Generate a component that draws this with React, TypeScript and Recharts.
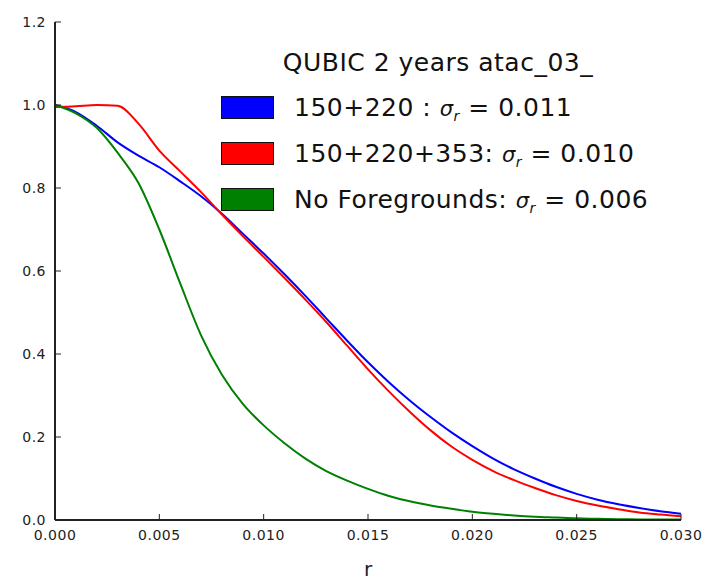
import React from 'react';
import { LineChart, Line, XAxis, YAxis, Legend } from 'recharts';

const rValues = [
  0, 0.001, 0.002, 0.003, 0.004, 0.005, 0.006, 0.007, 0.008, 0.009, 0.01,
  0.011, 0.012, 0.013, 0.014, 0.015, 0.016, 0.017, 0.018, 0.019, 0.02,
  0.021, 0.022, 0.023, 0.024, 0.025, 0.026, 0.027, 0.028, 0.029, 0.03,
];
const blueValues = [
  1.0, 0.983, 0.95, 0.91, 0.878, 0.85, 0.816, 0.78, 0.738, 0.69, 0.642,
  0.592, 0.54, 0.486, 0.432, 0.38, 0.332, 0.288, 0.248, 0.211, 0.178,
  0.148, 0.122, 0.1, 0.08, 0.063, 0.049, 0.038, 0.029, 0.021, 0.015,
];
const redValues = [
  0.995, 0.997, 1.0, 0.998, 0.955, 0.89, 0.84, 0.79, 0.736, 0.684, 0.634,
  0.583, 0.531, 0.477, 0.42, 0.363, 0.31, 0.261, 0.216, 0.177, 0.145,
  0.118, 0.096, 0.077, 0.06, 0.046, 0.035, 0.026, 0.018, 0.013, 0.009,
];
const greenValues = [
  1.0, 0.98, 0.945, 0.885, 0.812, 0.7, 0.57, 0.445, 0.35, 0.28, 0.228,
  0.185, 0.148, 0.118, 0.095, 0.075, 0.058, 0.045, 0.035, 0.027, 0.02,
  0.015, 0.011, 0.008, 0.006, 0.004, 0.003, 0.002, 0.0015, 0.001, 0.001,
];

const xTicks = [0, 0.005, 0.01, 0.015, 0.02, 0.025, 0.03];
const yTicks = [0, 0.2, 0.4, 0.6, 0.8, 1.0, 1.2];
const legendTitle = 'QUBIC 2 years atac_03_';
const seriesNames = ['150+220 :', '150+220+353:', 'No Foregrounds:'];
const sigmaValues = ['0.011', '0.010', '0.006'];
const seriesKeys = ['blue', 'red', 'green'];
const seriesColors = ['#0000ff', '#ff0000', '#008000'];
const xLabel = 'r';

const data = rValues.map((r, i) => ({
  r,
  blue: blueValues[i],
  red: redValues[i],
  green: greenValues[i],
}));

const FONT = '"DejaVu Sans", sans-serif';
const AXIS_COLOR = '#222';

const BottomTick = (props: any) => {
  const { x, y, payload } = props;
  return (
    <g>
      <line x1={x} y1={y} x2={x} y2={y - 6} stroke={AXIS_COLOR} strokeWidth={1} />
      <text x={x} y={y + 20} textAnchor="middle" fontSize={14} fontFamily={FONT} fill="#222" letterSpacing={0.5}>
        {Number(payload.value).toFixed(3)}
      </text>
    </g>
  );
};

const TopTick = (props: any) => {
  const { x, y } = props;
  return <line x1={x} y1={y} x2={x} y2={y + 6} stroke={AXIS_COLOR} strokeWidth={1} />;
};

const LeftTick = (props: any) => {
  const { x, y, payload } = props;
  return (
    <g>
      <line x1={x} y1={y} x2={x + 6} y2={y} stroke={AXIS_COLOR} strokeWidth={1} />
      <text x={x - 9} y={y + 5} textAnchor="end" fontSize={14} fontFamily={FONT} fill="#222" letterSpacing={0.5}>
        {Number(payload.value).toFixed(1)}
      </text>
    </g>
  );
};

const RightTick = (props: any) => {
  const { x, y } = props;
  return <line x1={x} y1={y} x2={x - 6} y2={y} stroke={AXIS_COLOR} strokeWidth={1} />;
};

const LegendBox = () => (
  <div style={{ position: 'relative', width: 705, height: 587, fontFamily: FONT, color: '#111', pointerEvents: 'none' }}>
    <div
      style={{
        position: 'absolute',
        left: 238,
        width: 400,
        top: 48,
        textAlign: 'center',
        fontSize: 25,
        lineHeight: '30px',
        letterSpacing: 0.5,
        whiteSpace: 'nowrap',
      }}
    >
      {legendTitle}
    </div>
    {seriesNames.map((name, i) => (
      <div key={name} style={{ position: 'absolute', left: 221, top: 92 + i * 46, height: 30, display: 'flex', alignItems: 'center' }}>
        <div
          style={{
            width: 51,
            height: 21,
            background: seriesColors[i],
            border: '1px solid #111',
            marginRight: 20,
          }}
        />
        <span style={{ fontSize: 25, letterSpacing: 0.5, whiteSpace: 'nowrap' }}>
          {name}{' '}
          <span style={{ fontStyle: 'italic', fontSize: 21 }}>σ</span>
          <span style={{ fontStyle: 'italic', fontSize: 14, position: 'relative', top: 5 }}>r</span>
          {' = '}
          {sigmaValues[i]}
        </span>
      </div>
    ))}
  </div>
);

export default function App() {
  return (
    <div style={{ position: 'absolute', left: 0, top: 0, width: 705, height: 587, background: '#fff' }}>
      <LineChart
        width={705}
        height={587}
        data={data}
        margin={{ top: 22, right: 24, bottom: 7, left: 0 }}
      >
        <XAxis
          xAxisId="bottom"
          dataKey="r"
          type="number"
          domain={[0, 0.03]}
          ticks={xTicks}
          interval={0}
          tickSize={0}
          tickMargin={0}
          tickLine={false}
          tick={<BottomTick />}
          axisLine={{ stroke: AXIS_COLOR, strokeWidth: 2 }}
          height={60}
          label={{ value: xLabel, position: 'insideBottom', offset: 4, fontSize: 20, fontFamily: FONT, fill: '#222' }}
        />
        <XAxis
          xAxisId="top"
          orientation="top"
          dataKey="r"
          type="number"
          domain={[0, 0.03]}
          ticks={xTicks}
          interval={0}
          tickSize={0}
          tickMargin={0}
          tickLine={false}
          tick={<TopTick />}
          axisLine={{ stroke: AXIS_COLOR, strokeWidth: 2 }}
          height={0}
        />
        <YAxis
          yAxisId="left"
          type="number"
          domain={[0, 1.2]}
          ticks={yTicks}
          interval={0}
          tickSize={0}
          tickMargin={0}
          tickLine={false}
          tick={<LeftTick />}
          axisLine={{ stroke: AXIS_COLOR, strokeWidth: 2 }}
          width={55}
        />
        <YAxis
          yAxisId="right"
          orientation="right"
          type="number"
          domain={[0, 1.2]}
          ticks={yTicks}
          interval={0}
          tickSize={0}
          tickMargin={0}
          tickLine={false}
          tick={<RightTick />}
          axisLine={{ stroke: AXIS_COLOR, strokeWidth: 2 }}
          width={0}
        />
        {seriesKeys.map((k, i) => (
          <Line
            key={k}
            xAxisId="bottom"
            yAxisId="left"
            dataKey={k}
            type="monotone"
            stroke={seriesColors[i]}
            strokeWidth={2}
            dot={false}
            isAnimationActive={false}
          />
        ))}
        <Legend
          layout="vertical"
          align="center"
          verticalAlign="middle"
          content={<LegendBox />}
          wrapperStyle={{ position: 'absolute', left: 0, top: 0, width: 705, height: 587 }}
        />
      </LineChart>
    </div>
  );
}
